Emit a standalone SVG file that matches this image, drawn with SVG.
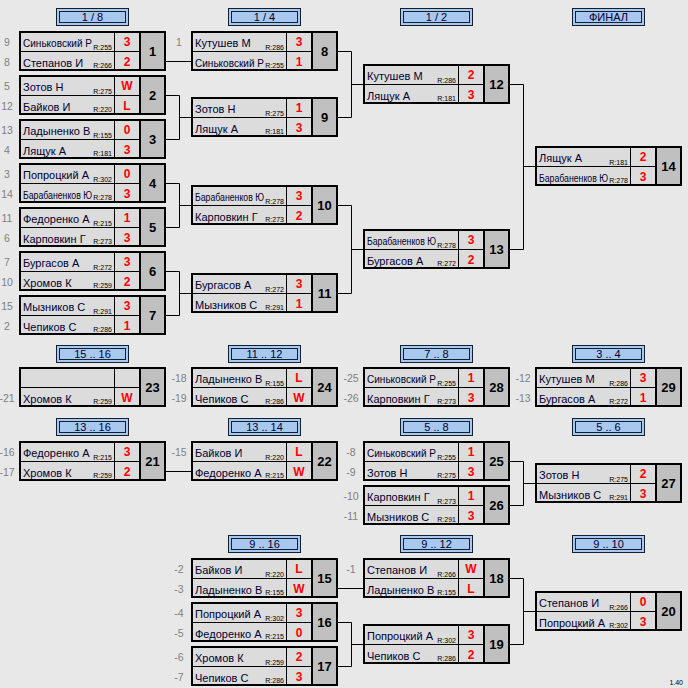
<svg xmlns="http://www.w3.org/2000/svg" width="688" height="688" viewBox="0 0 688 688">
<style>
.bg{fill:#e8e8e8}
.c{fill:#dcdcdc}
.n{fill:#c0c0c0}
.l{stroke:#000;stroke-width:1;fill:none}
.t{stroke:#000;stroke-width:2;fill:none}
.bx{fill:none;stroke:#000;stroke-width:2}
text{font-family:"Liberation Sans",Arial,sans-serif}
.nm{font-size:11px;fill:#000030}
.rt{font-size:7px;fill:#000;text-anchor:end}
.sc{font-size:12px;font-weight:bold;fill:#ff0000;text-anchor:middle}
.no{font-size:13px;font-weight:bold;fill:#000;text-anchor:middle}
.sd{font-size:10.5px;fill:#808080;text-anchor:middle}
.ho{fill:#a8c8f0;stroke:#102030;stroke-width:1}
.hi{fill:none;stroke:#102030;stroke-width:1}
.ht{font-size:11px;fill:#000030;text-anchor:middle}
.cn{stroke:#000;stroke-width:1;fill:none}
.ver{font-size:7px;fill:#000;text-anchor:end}
</style>
<defs>
<g id="frame">
<rect class="c" x="2" y="2" width="118" height="36"/>
<rect class="n" x="122" y="2" width="23" height="36"/>
</g>
<g id="lines">
<path class="l" d="M95.5 2V38M2 20.5H120"/>
<path class="t" d="M121 0V40"/>
<rect class="bx" x="1" y="1" width="145" height="38"/>
</g>
<g id="hdr">
<rect class="ho" x="37.5" y="0.5" width="72" height="17"/>
<rect class="hi" x="40.5" y="3.5" width="66" height="11"/>
</g>
</defs>
<rect class="bg" x="0" y="0" width="688" height="688"/>

<g id="headers">
<g id="h1" transform="translate(19,8)"><use href="#hdr"/><text class="ht" x="73.5" y="12.7">1 / 8</text></g>
<g id="h2" transform="translate(191,8)"><use href="#hdr"/><text class="ht" x="73.5" y="12.7">1 / 4</text></g>
<g id="h3" transform="translate(363,8)"><use href="#hdr"/><text class="ht" x="73.5" y="12.7">1 / 2</text></g>
<g id="h4" transform="translate(535,8)"><use href="#hdr"/><text class="ht" x="73.5" y="12.7">ФИНАЛ</text></g>
<g id="h5" transform="translate(19,345)"><use href="#hdr"/><text class="ht" x="73.5" y="12.7">15 .. 16</text></g>
<g id="h6" transform="translate(191,345)"><use href="#hdr"/><text class="ht" x="73.5" y="12.7">11 .. 12</text></g>
<g id="h7" transform="translate(363,345)"><use href="#hdr"/><text class="ht" x="73.5" y="12.7">7 .. 8</text></g>
<g id="h8" transform="translate(535,345)"><use href="#hdr"/><text class="ht" x="73.5" y="12.7">3 .. 4</text></g>
<g id="h9" transform="translate(19,418)"><use href="#hdr"/><text class="ht" x="73.5" y="12.7">13 .. 16</text></g>
<g id="h10" transform="translate(191,418)"><use href="#hdr"/><text class="ht" x="73.5" y="12.7">13 .. 14</text></g>
<g id="h11" transform="translate(363,418)"><use href="#hdr"/><text class="ht" x="73.5" y="12.7">5 .. 8</text></g>
<g id="h12" transform="translate(535,418)"><use href="#hdr"/><text class="ht" x="73.5" y="12.7">5 .. 6</text></g>
<g id="h13" transform="translate(191,535)"><use href="#hdr"/><text class="ht" x="73.5" y="12.7">9 .. 16</text></g>
<g id="h14" transform="translate(363,535)"><use href="#hdr"/><text class="ht" x="73.5" y="12.7">9 .. 12</text></g>
<g id="h15" transform="translate(535,535)"><use href="#hdr"/><text class="ht" x="73.5" y="12.7">9 .. 10</text></g>
</g>

<g id="connectors">
<path class="cn" d="M166 61.5H191"/>
<path class="cn" d="M166 95.5H179.5V139.5H166M179.5 117.5H191"/>
<path class="cn" d="M166 183.5H179.5V227.5H166M179.5 205.5H191"/>
<path class="cn" d="M166 271.5H179.5V315.5H166M179.5 293.5H191"/>
<path class="cn" d="M338 51.5H351.5V117.5H338M351.5 84.5H363"/>
<path class="cn" d="M338 205.5H351.5V293.5H338M351.5 249.5H363"/>
<path class="cn" d="M510 84.5H523.5V249.5H510M523.5 166.5H535"/>
<path class="cn" d="M166 471.5H191"/>
<path class="cn" d="M510 461.5H523.5V505.5H510M523.5 483.5H535"/>
<path class="cn" d="M338 588.5H363"/>
<path class="cn" d="M338 622.5H351.5V666.5H338M351.5 644.5H363"/>
<path class="cn" d="M510 578.5H523.5V644.5H510M523.5 611.5H535"/>
</g>

<g id="m1" transform="translate(19,31)"><use href="#frame"/>
<text class="nm" x="4" y="15.5" textLength="69" lengthAdjust="spacingAndGlyphs">Синьковский Р</text><text class="nm" x="4" y="35.5">Степанов И</text>
<text class="rt" x="93" y="18.5">R:255</text><text class="rt" x="93" y="36.5">R:266</text>
<use href="#lines"/>
<text class="sc" x="108" y="15">3</text><text class="sc" x="108" y="34.5">2</text>
<text class="no" x="133.5" y="24.5">1</text>
<text class="sd" x="-12" y="15">9</text><text class="sd" x="-12" y="34.5">8</text></g>

<g id="m2" transform="translate(19,75)"><use href="#frame"/>
<text class="nm" x="4" y="15.5">Зотов Н</text><text class="nm" x="4" y="35.5">Байков И</text>
<text class="rt" x="93" y="18.5">R:275</text><text class="rt" x="93" y="36.5">R:220</text>
<use href="#lines"/>
<text class="sc" x="108" y="15">W</text><text class="sc" x="108" y="34.5">L</text>
<text class="no" x="133.5" y="24.5">2</text>
<text class="sd" x="-12" y="15">5</text><text class="sd" x="-12" y="34.5">12</text></g>

<g id="m3" transform="translate(19,119)"><use href="#frame"/>
<text class="nm" x="4" y="15.5">Ладыненко В</text><text class="nm" x="4" y="35.5">Лящук А</text>
<text class="rt" x="93" y="18.5">R:155</text><text class="rt" x="93" y="36.5">R:181</text>
<use href="#lines"/>
<text class="sc" x="108" y="15">0</text><text class="sc" x="108" y="34.5">3</text>
<text class="no" x="133.5" y="24.5">3</text>
<text class="sd" x="-12" y="15">13</text><text class="sd" x="-12" y="34.5">4</text></g>

<g id="m4" transform="translate(19,163)"><use href="#frame"/>
<text class="nm" x="4" y="15.5">Попроцкий А</text><text class="nm" x="4" y="35.5" textLength="69" lengthAdjust="spacingAndGlyphs">Барабаненков Ю</text>
<text class="rt" x="93" y="18.5">R:302</text><text class="rt" x="93" y="36.5">R:278</text>
<use href="#lines"/>
<text class="sc" x="108" y="15">0</text><text class="sc" x="108" y="34.5">3</text>
<text class="no" x="133.5" y="24.5">4</text>
<text class="sd" x="-12" y="15">3</text><text class="sd" x="-12" y="34.5">14</text></g>

<g id="m5" transform="translate(19,207)"><use href="#frame"/>
<text class="nm" x="4" y="15.5">Федоренко А</text><text class="nm" x="4" y="35.5">Карповкин Г</text>
<text class="rt" x="93" y="18.5">R:215</text><text class="rt" x="93" y="36.5">R:273</text>
<use href="#lines"/>
<text class="sc" x="108" y="15">1</text><text class="sc" x="108" y="34.5">3</text>
<text class="no" x="133.5" y="24.5">5</text>
<text class="sd" x="-12" y="15">11</text><text class="sd" x="-12" y="34.5">6</text></g>

<g id="m6" transform="translate(19,251)"><use href="#frame"/>
<text class="nm" x="4" y="15.5">Бургасов А</text><text class="nm" x="4" y="35.5">Хромов К</text>
<text class="rt" x="93" y="18.5">R:272</text><text class="rt" x="93" y="36.5">R:259</text>
<use href="#lines"/>
<text class="sc" x="108" y="15">3</text><text class="sc" x="108" y="34.5">2</text>
<text class="no" x="133.5" y="24.5">6</text>
<text class="sd" x="-12" y="15">7</text><text class="sd" x="-12" y="34.5">10</text></g>

<g id="m7" transform="translate(19,295)"><use href="#frame"/>
<text class="nm" x="4" y="15.5">Мызников С</text><text class="nm" x="4" y="35.5">Чепиков С</text>
<text class="rt" x="93" y="18.5">R:291</text><text class="rt" x="93" y="36.5">R:286</text>
<use href="#lines"/>
<text class="sc" x="108" y="15">3</text><text class="sc" x="108" y="34.5">1</text>
<text class="no" x="133.5" y="24.5">7</text>
<text class="sd" x="-12" y="15">15</text><text class="sd" x="-12" y="34.5">2</text></g>

<g id="m8" transform="translate(191,31)"><use href="#frame"/>
<text class="nm" x="4" y="15.5">Кутушев М</text><text class="nm" x="4" y="35.5" textLength="69" lengthAdjust="spacingAndGlyphs">Синьковский Р</text>
<text class="rt" x="93" y="18.5">R:286</text><text class="rt" x="93" y="36.5">R:255</text>
<use href="#lines"/>
<text class="sc" x="108" y="15">3</text><text class="sc" x="108" y="34.5">1</text>
<text class="no" x="133.5" y="24.5">8</text>
<text class="sd" x="-12" y="15">1</text></g>

<g id="m9" transform="translate(191,97)"><use href="#frame"/>
<text class="nm" x="4" y="15.5">Зотов Н</text><text class="nm" x="4" y="35.5">Лящук А</text>
<text class="rt" x="93" y="18.5">R:275</text><text class="rt" x="93" y="36.5">R:181</text>
<use href="#lines"/>
<text class="sc" x="108" y="15">1</text><text class="sc" x="108" y="34.5">3</text>
<text class="no" x="133.5" y="24.5">9</text></g>

<g id="m10" transform="translate(191,185)"><use href="#frame"/>
<text class="nm" x="4" y="15.5" textLength="69" lengthAdjust="spacingAndGlyphs">Барабаненков Ю</text><text class="nm" x="4" y="35.5">Карповкин Г</text>
<text class="rt" x="93" y="18.5">R:278</text><text class="rt" x="93" y="36.5">R:273</text>
<use href="#lines"/>
<text class="sc" x="108" y="15">3</text><text class="sc" x="108" y="34.5">2</text>
<text class="no" x="133.5" y="24.5">10</text></g>

<g id="m11" transform="translate(191,273)"><use href="#frame"/>
<text class="nm" x="4" y="15.5">Бургасов А</text><text class="nm" x="4" y="35.5">Мызников С</text>
<text class="rt" x="93" y="18.5">R:272</text><text class="rt" x="93" y="36.5">R:291</text>
<use href="#lines"/>
<text class="sc" x="108" y="15">3</text><text class="sc" x="108" y="34.5">1</text>
<text class="no" x="133.5" y="24.5">11</text></g>

<g id="m12" transform="translate(363,64)"><use href="#frame"/>
<text class="nm" x="4" y="15.5">Кутушев М</text><text class="nm" x="4" y="35.5">Лящук А</text>
<text class="rt" x="93" y="18.5">R:286</text><text class="rt" x="93" y="36.5">R:181</text>
<use href="#lines"/>
<text class="sc" x="108" y="15">2</text><text class="sc" x="108" y="34.5">3</text>
<text class="no" x="133.5" y="24.5">12</text></g>

<g id="m13" transform="translate(363,229)"><use href="#frame"/>
<text class="nm" x="4" y="15.5" textLength="69" lengthAdjust="spacingAndGlyphs">Барабаненков Ю</text><text class="nm" x="4" y="35.5">Бургасов А</text>
<text class="rt" x="93" y="18.5">R:278</text><text class="rt" x="93" y="36.5">R:272</text>
<use href="#lines"/>
<text class="sc" x="108" y="15">3</text><text class="sc" x="108" y="34.5">2</text>
<text class="no" x="133.5" y="24.5">13</text></g>

<g id="m14" transform="translate(535,146)"><use href="#frame"/>
<text class="nm" x="4" y="15.5">Лящук А</text><text class="nm" x="4" y="35.5" textLength="69" lengthAdjust="spacingAndGlyphs">Барабаненков Ю</text>
<text class="rt" x="93" y="18.5">R:181</text><text class="rt" x="93" y="36.5">R:278</text>
<use href="#lines"/>
<text class="sc" x="108" y="15">2</text><text class="sc" x="108" y="34.5">3</text>
<text class="no" x="133.5" y="24.5">14</text></g>

<g id="m23" transform="translate(19,367)"><use href="#frame"/>
<text class="nm" x="4" y="35.5">Хромов К</text>
<text class="rt" x="93" y="36.5">R:259</text>
<use href="#lines"/>
<text class="sc" x="108" y="34.5">W</text>
<text class="no" x="133.5" y="24.5">23</text>
<text class="sd" x="-12" y="34.5">-21</text></g>

<g id="m24" transform="translate(191,367)"><use href="#frame"/>
<text class="nm" x="4" y="15.5">Ладыненко В</text><text class="nm" x="4" y="35.5">Чепиков С</text>
<text class="rt" x="93" y="18.5">R:155</text><text class="rt" x="93" y="36.5">R:286</text>
<use href="#lines"/>
<text class="sc" x="108" y="15">L</text><text class="sc" x="108" y="34.5">W</text>
<text class="no" x="133.5" y="24.5">24</text>
<text class="sd" x="-12" y="15">-18</text><text class="sd" x="-12" y="34.5">-19</text></g>

<g id="m28" transform="translate(363,367)"><use href="#frame"/>
<text class="nm" x="4" y="15.5" textLength="69" lengthAdjust="spacingAndGlyphs">Синьковский Р</text><text class="nm" x="4" y="35.5">Карповкин Г</text>
<text class="rt" x="93" y="18.5">R:255</text><text class="rt" x="93" y="36.5">R:273</text>
<use href="#lines"/>
<text class="sc" x="108" y="15">1</text><text class="sc" x="108" y="34.5">3</text>
<text class="no" x="133.5" y="24.5">28</text>
<text class="sd" x="-12" y="15">-25</text><text class="sd" x="-12" y="34.5">-26</text></g>

<g id="m29" transform="translate(535,367)"><use href="#frame"/>
<text class="nm" x="4" y="15.5">Кутушев М</text><text class="nm" x="4" y="35.5">Бургасов А</text>
<text class="rt" x="93" y="18.5">R:286</text><text class="rt" x="93" y="36.5">R:272</text>
<use href="#lines"/>
<text class="sc" x="108" y="15">3</text><text class="sc" x="108" y="34.5">1</text>
<text class="no" x="133.5" y="24.5">29</text>
<text class="sd" x="-12" y="15">-12</text><text class="sd" x="-12" y="34.5">-13</text></g>

<g id="m21" transform="translate(19,441)"><use href="#frame"/>
<text class="nm" x="4" y="15.5">Федоренко А</text><text class="nm" x="4" y="35.5">Хромов К</text>
<text class="rt" x="93" y="18.5">R:215</text><text class="rt" x="93" y="36.5">R:259</text>
<use href="#lines"/>
<text class="sc" x="108" y="15">3</text><text class="sc" x="108" y="34.5">2</text>
<text class="no" x="133.5" y="24.5">21</text>
<text class="sd" x="-12" y="15">-16</text><text class="sd" x="-12" y="34.5">-17</text></g>

<g id="m22" transform="translate(191,441)"><use href="#frame"/>
<text class="nm" x="4" y="15.5">Байков И</text><text class="nm" x="4" y="35.5">Федоренко А</text>
<text class="rt" x="93" y="18.5">R:220</text><text class="rt" x="93" y="36.5">R:215</text>
<use href="#lines"/>
<text class="sc" x="108" y="15">L</text><text class="sc" x="108" y="34.5">W</text>
<text class="no" x="133.5" y="24.5">22</text>
<text class="sd" x="-12" y="15">-15</text></g>

<g id="m25" transform="translate(363,441)"><use href="#frame"/>
<text class="nm" x="4" y="15.5" textLength="69" lengthAdjust="spacingAndGlyphs">Синьковский Р</text><text class="nm" x="4" y="35.5">Зотов Н</text>
<text class="rt" x="93" y="18.5">R:255</text><text class="rt" x="93" y="36.5">R:275</text>
<use href="#lines"/>
<text class="sc" x="108" y="15">1</text><text class="sc" x="108" y="34.5">3</text>
<text class="no" x="133.5" y="24.5">25</text>
<text class="sd" x="-12" y="15">-8</text><text class="sd" x="-12" y="34.5">-9</text></g>

<g id="m26" transform="translate(363,485)"><use href="#frame"/>
<text class="nm" x="4" y="15.5">Карповкин Г</text><text class="nm" x="4" y="35.5">Мызников С</text>
<text class="rt" x="93" y="18.5">R:273</text><text class="rt" x="93" y="36.5">R:291</text>
<use href="#lines"/>
<text class="sc" x="108" y="15">1</text><text class="sc" x="108" y="34.5">3</text>
<text class="no" x="133.5" y="24.5">26</text>
<text class="sd" x="-12" y="15">-10</text><text class="sd" x="-12" y="34.5">-11</text></g>

<g id="m27" transform="translate(535,463)"><use href="#frame"/>
<text class="nm" x="4" y="15.5">Зотов Н</text><text class="nm" x="4" y="35.5">Мызников С</text>
<text class="rt" x="93" y="18.5">R:275</text><text class="rt" x="93" y="36.5">R:291</text>
<use href="#lines"/>
<text class="sc" x="108" y="15">2</text><text class="sc" x="108" y="34.5">3</text>
<text class="no" x="133.5" y="24.5">27</text></g>

<g id="m15" transform="translate(191,558)"><use href="#frame"/>
<text class="nm" x="4" y="15.5">Байков И</text><text class="nm" x="4" y="35.5">Ладыненко В</text>
<text class="rt" x="93" y="18.5">R:220</text><text class="rt" x="93" y="36.5">R:155</text>
<use href="#lines"/>
<text class="sc" x="108" y="15">L</text><text class="sc" x="108" y="34.5">W</text>
<text class="no" x="133.5" y="24.5">15</text>
<text class="sd" x="-12" y="15">-2</text><text class="sd" x="-12" y="34.5">-3</text></g>

<g id="m16" transform="translate(191,602)"><use href="#frame"/>
<text class="nm" x="4" y="15.5">Попроцкий А</text><text class="nm" x="4" y="35.5">Федоренко А</text>
<text class="rt" x="93" y="18.5">R:302</text><text class="rt" x="93" y="36.5">R:215</text>
<use href="#lines"/>
<text class="sc" x="108" y="15">3</text><text class="sc" x="108" y="34.5">0</text>
<text class="no" x="133.5" y="24.5">16</text>
<text class="sd" x="-12" y="15">-4</text><text class="sd" x="-12" y="34.5">-5</text></g>

<g id="m17" transform="translate(191,646)"><use href="#frame"/>
<text class="nm" x="4" y="15.5">Хромов К</text><text class="nm" x="4" y="35.5">Чепиков С</text>
<text class="rt" x="93" y="18.5">R:259</text><text class="rt" x="93" y="36.5">R:286</text>
<use href="#lines"/>
<text class="sc" x="108" y="15">2</text><text class="sc" x="108" y="34.5">3</text>
<text class="no" x="133.5" y="24.5">17</text>
<text class="sd" x="-12" y="15">-6</text><text class="sd" x="-12" y="34.5">-7</text></g>

<g id="m18" transform="translate(363,558)"><use href="#frame"/>
<text class="nm" x="4" y="15.5">Степанов И</text><text class="nm" x="4" y="35.5">Ладыненко В</text>
<text class="rt" x="93" y="18.5">R:266</text><text class="rt" x="93" y="36.5">R:155</text>
<use href="#lines"/>
<text class="sc" x="108" y="15">W</text><text class="sc" x="108" y="34.5">L</text>
<text class="no" x="133.5" y="24.5">18</text>
<text class="sd" x="-12" y="15">-1</text></g>

<g id="m19" transform="translate(363,624)"><use href="#frame"/>
<text class="nm" x="4" y="15.5">Попроцкий А</text><text class="nm" x="4" y="35.5">Чепиков С</text>
<text class="rt" x="93" y="18.5">R:302</text><text class="rt" x="93" y="36.5">R:286</text>
<use href="#lines"/>
<text class="sc" x="108" y="15">3</text><text class="sc" x="108" y="34.5">2</text>
<text class="no" x="133.5" y="24.5">19</text></g>

<g id="m20" transform="translate(535,591)"><use href="#frame"/>
<text class="nm" x="4" y="15.5">Степанов И</text><text class="nm" x="4" y="35.5">Попроцкий А</text>
<text class="rt" x="93" y="18.5">R:266</text><text class="rt" x="93" y="36.5">R:302</text>
<use href="#lines"/>
<text class="sc" x="108" y="15">0</text><text class="sc" x="108" y="34.5">3</text>
<text class="no" x="133.5" y="24.5">20</text></g>

<text class="ver" x="683" y="684.5">1.40</text>
</svg>
